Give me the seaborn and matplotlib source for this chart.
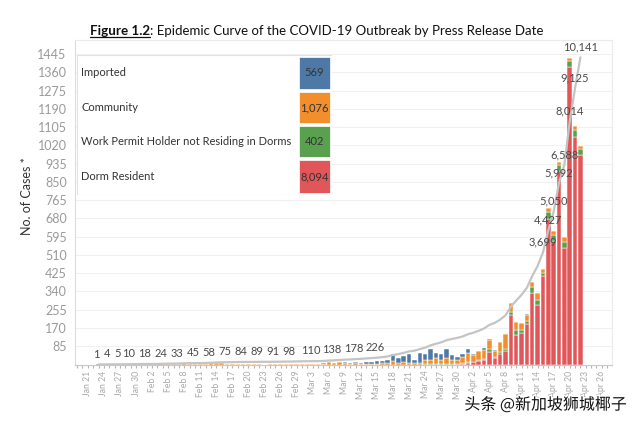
import numpy as np
import pandas as pd
import matplotlib
matplotlib.use("Agg")
import matplotlib.pyplot as plt
import matplotlib.patheffects as pe
from matplotlib.lines import Line2D
from matplotlib.patches import Rectangle
import seaborn as sns

# ---------------- data ----------------
categories = ["Imported", "Community",
              "Work Permit Holder not Residing in Dorms", "Dorm Resident"]
cat_colors = ["#4E79A7", "#F28E2B", "#59A14F", "#E15759"]

first_date = "2020-01-23"   # daily counts from 23 Jan to 22 Apr 2020
base_date = "2020-01-21"

imported = [
    1, 2, 1, 0, 1, 2, 3, 3, 3,                                   # Jan 23-31
    2, 0, 0, 2, 1, 0, 0, 0, 0, 0, 0, 0, 0, 0, 0, 0, 0, 0, 0, 0,
    0, 0, 0, 0, 0, 0, 0, 0, 0,                                   # Feb
    0, 0, 1, 1, 2, 3, 1, 2, 3, 2, 7, 6, 9, 9, 11, 11, 17,
    33, 24, 30, 39, 16, 48, 30, 53, 23, 26, 42, 20, 14, 13,      # Mar
    20, 5, 4, 9, 4, 2, 2, 2, 1, 1, 0, 1, 0, 0, 0, 0, 0, 1, 0, 0, 0, 0,  # Apr
]
community = [
    0, 0, 0, 0, 0, 0, 0, 0, 0,
    0, 0, 0, 4, 3, 2, 3, 7, 3, 2, 2, 3, 8, 9, 5, 3, 2, 4, 3, 1,
    1, 3, 0, 1, 1, 2, 3, 2, 4,
    4, 2, 1, 1, 3, 10, 7, 10, 7, 4, 5, 3, 4, 3, 3, 6, 6,
    14, 8, 10, 8, 7, 6, 17, 18, 27, 21, 26, 20, 19, 29,
    42, 32, 42, 42, 46, 27, 48, 67, 41, 37, 30, 28, 27, 32, 23, 18, 19, 13, 25, 15, 18, 14,
]
work_permit = [
    0, 0, 0, 0, 0, 0, 0, 0, 0,
    0, 0, 0, 0, 0, 0, 0, 0, 0, 0, 0, 0, 0, 0, 0, 0, 0, 0, 0, 0,
    0, 0, 0, 0, 0, 0, 0, 0, 0,
    0, 0, 0, 0, 0, 0, 0, 0, 0, 0, 0, 0, 0, 0, 0, 0, 0,
    0, 0, 0, 0, 0, 0, 2, 2, 2, 2, 2, 2, 1, 2,
    4, 2, 5, 4, 13, 7, 6, 8, 15, 22, 15, 15, 26, 26, 13, 34, 28, 27, 28, 28, 33, 28,
]
dorm = [
    0, 0, 0, 0, 0, 0, 0, 0, 0,
    0, 0, 0, 0, 0, 0, 0, 0, 0, 0, 0, 0, 0, 0, 0, 0, 0, 0, 0, 0,
    0, 0, 0, 0, 0, 0, 0, 0, 0,
    0, 0, 0, 0, 0, 0, 0, 0, 0, 0, 0, 0, 0, 0, 0, 0, 0,
    0, 0, 0, 0, 0, 0, 0, 0, 0, 0, 0, 0, 1, 3,
    8, 10, 14, 20, 57, 30, 50, 65, 230, 138, 146, 189, 333, 276, 411, 676, 576, 901, 543, 1383, 1060, 974,
]

tick_labels = ["Jan 21", "Jan 24", "Jan 27", "Jan 30", "Feb 2", "Feb 5", "Feb 8",
               "Feb 11", "Feb 14", "Feb 17", "Feb 20", "Feb 23", "Feb 26", "Feb 29",
               "Mar 3", "Mar 6", "Mar 9", "Mar 12", "Mar 15", "Mar 18", "Mar 21",
               "Mar 24", "Mar 27", "Mar 30", "Apr 2", "Apr 5", "Apr 8", "Apr 11",
               "Apr 14", "Apr 17", "Apr 20", "Apr 23", "Apr 26"]
y_ticks = [85, 170, 255, 340, 425, 510, 595, 680, 765, 850, 935, 1020,
           1105, 1190, 1275, 1360, 1445]
label_dates = ["Jan 23", "Jan 25", "Jan 27", "Jan 29", "Feb 1", "Feb 4", "Feb 7",
               "Feb 10", "Feb 13", "Feb 16", "Feb 19", "Feb 22", "Feb 25", "Feb 28",
               "Mar 3", "Mar 7", "Mar 11", "Mar 15", "Apr 15", "Apr 16", "Apr 17",
               "Apr 18", "Apr 19", "Apr 20", "Apr 21", "Apr 22"]

# ---------------- frames ----------------
base = pd.Timestamp(base_date)
dates = pd.date_range(first_date, periods=len(imported), freq="D")
days = (dates - base).days.values
series = [imported, community, work_permit, dorm]
df = pd.concat([pd.DataFrame({"day": days, "category": c, "count": s})
                for c, s in zip(categories, series)], ignore_index=True)
total = np.sum(np.array(series), axis=0)
cum = np.cumsum(total)
line_df = pd.DataFrame({"day": days, "cum": cum})


def to_day(lbl):
    return (pd.Timestamp(lbl + " 2020") - base).days


tick_days = [to_day(t) for t in tick_labels]

# ---------------- style ----------------
sns.set_style("white")
plt.rcParams["font.family"] = ["Lato", "DejaVu Sans"]

W, H = 640, 425
fig = plt.figure(figsize=(W / 100, H / 100), dpi=100)
ax = fig.add_axes([75 / W, 1 - 364.5 / H, 537 / W, 324.5 / H])

YMAX = 1511
RATIO = 7.09

for yt in y_ticks:
    ax.axhline(yt, color="#f0f0f0", lw=0.7, zorder=0)

palette = dict(zip(categories, cat_colors))
sns.histplot(data=df, x="day", weights="count", hue="category",
             hue_order=categories, palette=palette, multiple="stack",
             discrete=True, shrink=0.84, alpha=1, edgecolor="white",
             linewidth=0.35, legend=False, ax=ax, zorder=2)

ax.set_xlim(-2.4, 97.9)
ax.set_ylim(0, YMAX)
ax.set_yticks(y_ticks)
ax.set_yticklabels([str(v) for v in y_ticks], fontsize=9, color="#9a9a9a")
ax.set_xticks(tick_days)
ax.set_xticklabels(tick_labels, rotation=90, fontsize=6.2, color="#a8a8a8")
ax.set_xticks(np.arange(-2, 98), minor=True)
ax.tick_params(axis="x", which="both", length=2.5, width=0.8, color="#b5b5b5",
               direction="out", pad=2, bottom=True)
ax.tick_params(axis="y", length=0, pad=6)
ax.set_xlabel("")
ax.set_ylabel("No. of Cases *", fontsize=9, color="#333333")
ax.yaxis.set_label_coords(-0.078, 0.52)
for side in ["top", "right"]:
    ax.spines[side].set_color("#ebebeb")
    ax.spines[side].set_linewidth(0.8)
ax.spines["left"].set_color("#dcdcdc")
ax.spines["bottom"].set_color("#c8c8c8")

# cumulative line on hidden secondary axis
ax2 = ax.twinx()
sns.lineplot(data=line_df, x="day", y="cum", color="#c4c4c4", lw=1.6, ax=ax2,
             zorder=3)
ax2.set_ylim(0, YMAX * RATIO)
ax2.set_xlim(-2.4, 97.9)
ax2.axis("off")

for lbl in label_dates:
    d = to_day(lbl)
    v = int(cum[list(days).index(d)])
    ax2.annotate(f"{v:,}", (d, v), xytext=(-1.5 if v < 1000 else 0, 7.5),
                 textcoords="offset points", ha="center", va="center",
                 fontsize=8, color="#4a4a4a", zorder=5)

# ---------------- legend box (Tableau-like) ----------------
lx0, lx1, ly0, ly1 = 77, 332, 55, 195
lax = fig.add_axes([lx0 / W, 1 - ly1 / H, (lx1 - lx0) / W, (ly1 - ly0) / H])
lax.set_xlim(lx0, lx1)
lax.set_ylim(ly1, ly0)
lax.axis("off")
lax.add_patch(Rectangle((lx0, ly0), lx1 - lx0, ly1 - ly0, facecolor="white",
                        edgecolor="#e2e2e2", lw=0.8))
rows = [(57, 89), (92, 123), (126, 157), (160, 193)]
for (r0, r1), cat, col, s in zip(rows, categories, cat_colors, series):
    lax.add_patch(Rectangle((299, r0), 31, r1 - r0, facecolor=col,
                            edgecolor="white", lw=0.5))
    lax.text(81, (r0 + r1) / 2, cat, ha="left", va="center", fontsize=8,
             color="#333333")
    lax.text(314.5, (r0 + r1) / 2, f"{int(np.sum(s)):,}", ha="center",
             va="center", fontsize=8, color="#333333")

# ---------------- title ----------------
ty = 1 - 35 / H
t1 = fig.text(90 / W, ty, "Figure 1.2", fontsize=9.6, fontweight="bold",
              color="#111111", va="baseline", ha="left")
fig.canvas.draw()
r = fig.canvas.get_renderer()
bb = t1.get_window_extent(r)
fig.text(bb.x1 / fig.bbox.width, ty,
         ": Epidemic Curve of the COVID-19 Outbreak by Press Release Date",
         fontsize=9.5, color="#111111", va="baseline", ha="left")
fig.add_artist(Line2D([bb.x0 / fig.bbox.width, bb.x1 / fig.bbox.width],
                      [ty - 2 / H, ty - 2 / H], color="#111111", lw=0.9,
                      transform=fig.transFigure))

# watermark
fig.text(627 / W, 1 - 405 / H, "头条 @新加坡狮城椰子", ha="right", va="center",
         fontsize=11.5, color="#111111",
         family=["Noto Sans CJK SC", "DejaVu Sans"],
         path_effects=[pe.withStroke(linewidth=2, foreground="white")])

fig.savefig("out.png", dpi=100, facecolor="white")
